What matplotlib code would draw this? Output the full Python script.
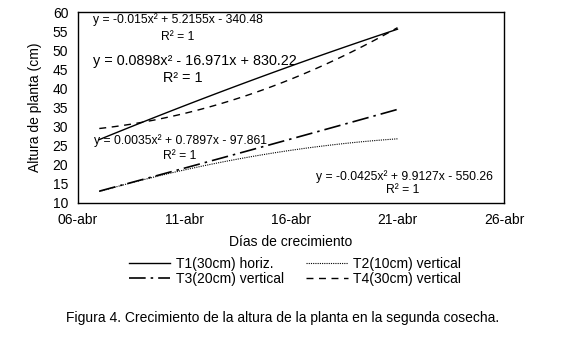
import numpy as np
import matplotlib
matplotlib.use("Agg")
import matplotlib.pyplot as plt

plt.rcParams['font.family'] = ['Liberation Sans', 'DejaVu Sans']

# dia del año (2012): 07-abr, 14-abr, 21-abr
dias = [98, 105, 112]
t1 = [26.6, 41.8, 55.5]
t2 = [13.0, 22.0, 26.8]
t3 = [13.1, 23.7, 34.5]
t4 = [29.5, 38.3, 55.9]

etiquetas = ['T1(30cm) horiz.', 'T2(10cm) vertical', 'T3(20cm) vertical', 'T4(30cm) vertical']
ticks_x = [97, 102, 107, 112, 117]
etiquetas_x = ['06-abr', '11-abr', '16-abr', '21-abr', '26-abr']

fig = plt.figure(figsize=(5.66, 3.42), dpi=100)
ax = fig.add_axes([78/566, 1-203/342, 426/566, 191/342])

estilos = ['-', (0, (1, 1)), (0, (10, 3, 1.5, 3)), (0, (5, 4))]
anchos = [1.0, 0.8, 1.2, 1.0]

xx = np.linspace(dias[0], dias[-1], 100)
lineas = []
for serie, ls, lw, lab in zip([t1, t2, t3, t4], estilos, anchos, etiquetas):
    # linea de tendencia polinomica de orden 2
    coef = np.polyfit(dias, serie, 2)
    l, = ax.plot(xx, np.polyval(coef, xx), color='black', linestyle=ls, lw=lw, label=lab)
    lineas.append(l)

ax.set_xlim(97, 117)
ax.set_ylim(10, 60)
ax.set_xticks(ticks_x)
ax.set_xticklabels(etiquetas_x)
ax.set_yticks(range(10, 61, 5))
ax.tick_params(length=0, labelsize=10, pad=7)
for s in ax.spines.values():
    s.set_linewidth(1.0)

ax.set_xlabel('Días de crecimiento', fontsize=10, labelpad=6)
ax.set_ylabel('Altura de planta (cm)', fontsize=10, labelpad=8)

def px(x, y):
    return x/566, 1-y/342

fig.text(*px(178, 20), 'y = -0.015x² + 5.2155x - 340.48', fontsize=8.7, ha='center', va='center')
fig.text(*px(178, 37), 'R² = 1', fontsize=8.7, ha='center', va='center')
fig.text(*px(195, 61), 'y = 0.0898x² - 16.971x + 830.22', fontsize=10.4, ha='center', va='center')
fig.text(*px(183, 78), 'R² = 1', fontsize=10.4, ha='center', va='center')
fig.text(*px(180, 141), 'y = 0.0035x² + 0.7897x - 97.861', fontsize=8.7, ha='center', va='center')
fig.text(*px(180, 156), 'R² = 1', fontsize=8.7, ha='center', va='center')
fig.text(*px(404, 177), 'y = -0.0425x² + 9.9127x - 550.26', fontsize=8.7, ha='center', va='center')
fig.text(*px(403, 190), 'R² = 1', fontsize=8.7, ha='center', va='center')

fig.legend(handles=[lineas[0], lineas[2], lineas[1], lineas[3]],
           labels=[etiquetas[0], etiquetas[2], etiquetas[1], etiquetas[3]],
           ncol=2, loc='upper center', bbox_to_anchor=(295/566, 1-250/342),
           frameon=False, fontsize=10, handlelength=3.0, handletextpad=0.4,
           labelspacing=0.1, columnspacing=1.6, borderpad=0)

fig.text(*px(283, 318), 'Figura 4. Crecimiento de la altura de la planta en la segunda cosecha.',
         fontsize=10, ha='center', va='center')

fig.savefig('out.png', dpi=100)
